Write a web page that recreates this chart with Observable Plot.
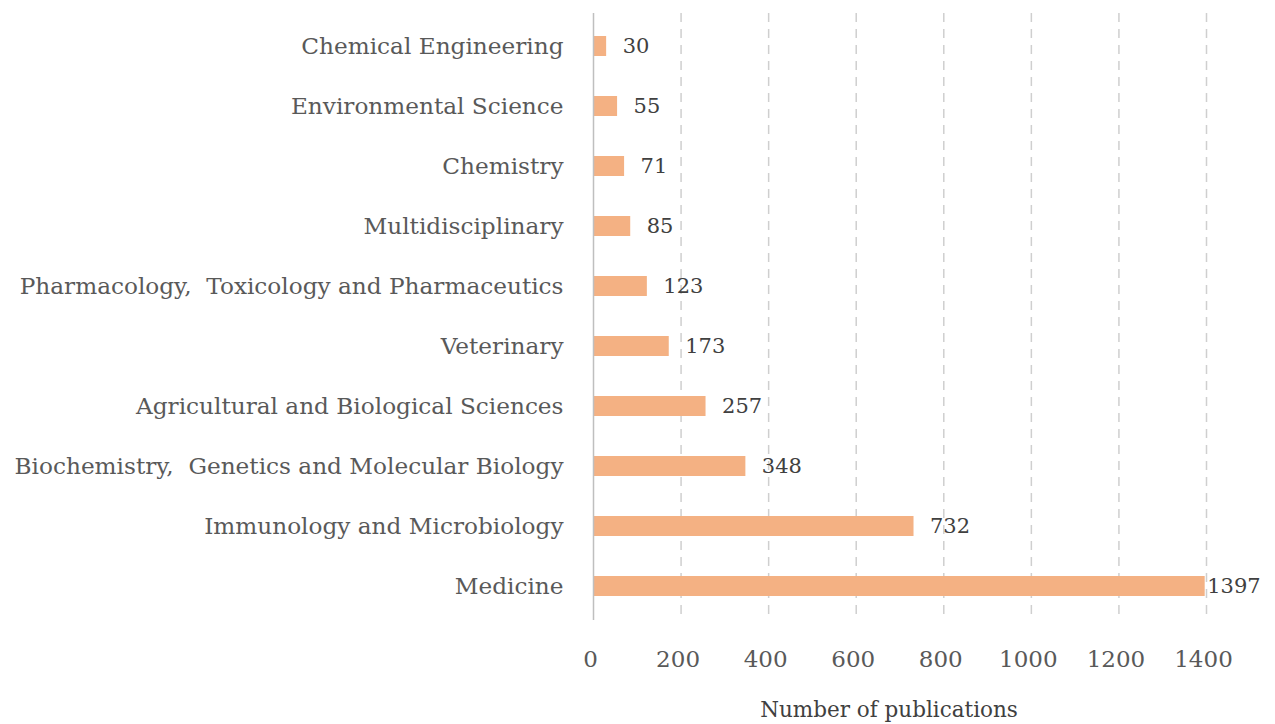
<!DOCTYPE html>
<html>
<head>
<meta charset="utf-8">
<script src="https://cdn.jsdelivr.net/npm/d3@7"></script>
<script src="https://cdn.jsdelivr.net/npm/@observablehq/plot@0.6"></script>
<style>
  html, body { margin: 0; padding: 0; background: #fff; }
  #chart text { white-space: pre; }
</style>
</head>
<body>
<div id="chart"></div>
<script>
const categories = [
  "Chemical Engineering",
  "Environmental Science",
  "Chemistry",
  "Multidisciplinary",
  "Pharmacology,  Toxicology and Pharmaceutics",
  "Veterinary",
  "Agricultural and Biological Sciences",
  "Biochemistry,  Genetics and Molecular Biology",
  "Immunology and Microbiology",
  "Medicine"
];
const publications = [30, 55, 71, 85, 123, 173, 257, 348, 732, 1397];
const xTicks = [0, 200, 400, 600, 800, 1000, 1200, 1400];
const xLabel = "Number of publications";

const data = categories.map((c, i) => ({category: c, value: publications[i]}));
const serif = "'DejaVu Serif', 'Liberation Serif', serif";

const chart = Plot.plot({
  width: 1275,
  height: 724,
  marginLeft: 593,
  marginRight: 69,
  marginTop: 13,
  marginBottom: 104,
  style: {fontFamily: serif, fontSize: "23px", color: "#595959", background: "#fff"},
  x: {domain: [0, 1400], ticks: xTicks, tickFormat: "d", label: null},
  y: {domain: categories, paddingInner: 0.66, paddingOuter: 0.34, label: null},
  marks: [
    Plot.ruleX(xTicks.filter(d => d > 0), {stroke: "#cfcfcf", strokeWidth: 1.5, strokeDasharray: "9,7"}),
    Plot.barX(data, {y: "category", x: "value", fill: "#F4B183"}),
    Plot.ruleX([0], {stroke: "#bfbfbf", strokeWidth: 1.5}),
    Plot.ruleY([0], {frameAnchor: "bottom", stroke: "#bfbfbf", strokeWidth: 1.5}),
    Plot.text(data.filter(d => d.value < 1000), {y: "category", x: "value", text: d => String(d.value), textAnchor: "start", dx: 16, fill: "#404040", fontSize: 21}),
    Plot.text(data.filter(d => d.value >= 1000), {y: "category", x: "value", text: d => String(d.value), textAnchor: "start", dx: 2, fill: "#404040", fontSize: 21}),
    Plot.axisY({tickSize: 0, tickPadding: 30, fontSize: 23.2, fill: "#595959"}),
    Plot.axisX({ticks: xTicks, tickFormat: "d", tickSize: 0, tickPadding: 30, dx: -3, fontSize: 23, fill: "#595959", label: null}),
    Plot.text([xLabel], {frameAnchor: "bottom", x: 675, dy: 96, fontSize: 21.5, fill: "#404040"})
  ]
});
document.getElementById("chart").appendChild(chart);
</script>
</body>
</html>
